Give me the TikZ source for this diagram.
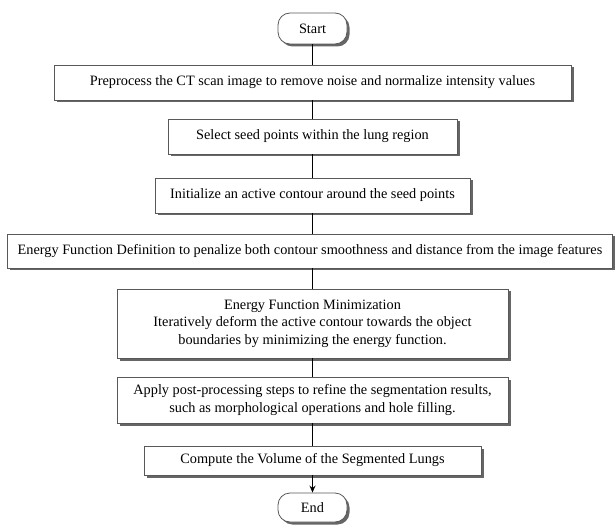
\documentclass[tikz,border=0pt]{standalone}
\usepackage{fontspec}
\setmainfont{Liberation Serif}
\usetikzlibrary{shadows, arrows.meta}

\begin{document}
\begin{tikzpicture}[x=1pt, y=-1pt,
  stepbox/.style={draw=black!65, line width=0.8pt, fill=white, align=center,
    inner sep=0pt, font=\fontsize{14.3}{17.5}\selectfont,
    drop shadow={shadow xshift=2.5pt, shadow yshift=-2.5pt, fill=black!60, opacity=1}},
  termbox/.style={stepbox, rounded corners=12pt},
  link/.style={line width=1.6pt, black}]
  \useasboundingbox (0,0) rectangle (615,526);
  % start / end
  \node[termbox, minimum width=69pt, minimum height=31pt] (start) at (312.5,28.5) {Start};
  \node[stepbox, minimum width=517pt, minimum height=35pt] (prep) at (312.5,82.5)
    {Preprocess the CT scan image to remove noise and normalize intensity values};
  \node[stepbox, minimum width=289pt, minimum height=35pt] (seed) at (312.5,136.5)
    {Select seed points within the lung region};
  \node[stepbox, minimum width=315pt, minimum height=35pt] (init) at (312.5,195.5)
    {Initialize an active contour around the seed points};
  \node[stepbox, minimum width=605pt, minimum height=34pt] (edef) at (310,251)
    {Energy Function Definition to penalize both contour smoothness and distance from the image features};
  \node[stepbox, minimum width=391pt, minimum height=69pt] (emin) at (312.5,323.5)
    {Energy Function Minimization\\Iteratively deform the active contour towards the object\\boundaries by minimizing the energy function.};
  \node[stepbox, minimum width=391pt, minimum height=46pt] (post) at (312.5,400)
    {Apply post-processing steps to refine the segmentation results,\\such as morphological operations and hole filling.};
  \node[stepbox, minimum width=337pt, minimum height=29pt] (vol) at (312.5,460.5)
    {Compute the Volume of the Segmented Lungs};
  \node[termbox, minimum width=69pt, minimum height=29pt] (end) at (312.5,507.5) {End};
  % connectors
  \draw[link] (start) -- (prep);
  \draw[link] (prep) -- (seed);
  \draw[link] (seed) -- (init);
  \draw[link] (init.south) -- (init.south |- edef.north);
  \draw[link] (edef.south -| emin.north) -- (emin.north);
  \draw[link] (emin) -- (post);
  \draw[link] (post) -- (vol);
  \draw[link, -{Stealth[length=7pt, width=6pt]}] (vol) -- (end);
\end{tikzpicture}
\end{document}
